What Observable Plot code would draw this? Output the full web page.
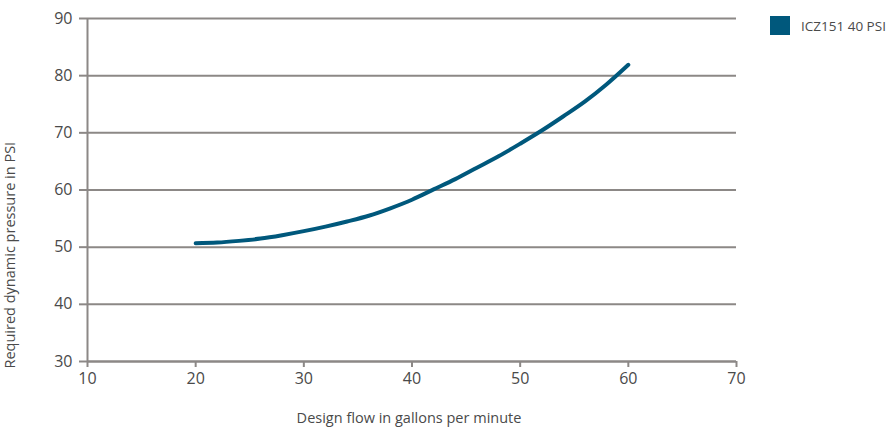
<!DOCTYPE html>
<html>
<head>
<meta charset="utf-8">
<script src="https://cdn.jsdelivr.net/npm/d3@7"></script>
<script src="https://cdn.jsdelivr.net/npm/@observablehq/plot@0.6"></script>
<style>
  html, body { margin: 0; padding: 0; background: #fff; }
  #wrap { position: relative; width: 890px; height: 434px; font-family: "Open Sans", sans-serif; }
  #legend { position: absolute; left: 770px; top: 16px; display: flex; align-items: center; font-size: 13.5px; color: #4a4a4a; white-space: nowrap; }
  #legend .sw { width: 20px; height: 19px; background: #00587c; margin-right: 11px; }
</style>
</head>
<body>
<div id="wrap"><div id="legend"><div class="sw"></div><span id="legtext"></span></div></div>
<script>
const seriesName = "ICZ151 40 PSI";
const flow = [20, 22, 24, 26, 28, 30, 32, 34, 36, 38, 40, 42, 44, 46, 48, 50, 52, 54, 56, 58, 60];
const pressure = [50.7, 50.8, 51.1, 51.5, 52.1, 52.8, 53.6, 54.5, 55.5, 56.8, 58.3, 60.1, 61.9, 63.9, 65.9, 68.1, 70.4, 72.9, 75.5, 78.5, 81.9];
const xTicks = [10, 20, 30, 40, 50, 60, 70];
const yTicks = [30, 40, 50, 60, 70, 80, 90];
const xLabel = "Design flow in gallons per minute";
const yLabel = "Required dynamic pressure in PSI";

const data = flow.map((f, i) => ({flow: f, pressure: pressure[i]}));
const gray = "#8c8886";
const textColor = "#4a4a4a";

const chart = Plot.plot({
  width: 890,
  height: 434,
  marginLeft: 87,
  marginRight: 154,
  marginTop: 18,
  marginBottom: 73,
  style: {fontFamily: "'Open Sans', sans-serif", background: "transparent", color: textColor},
  x: {domain: [10, 70], ticks: xTicks, label: null},
  y: {domain: [30, 90], ticks: yTicks, label: null},
  marks: [
    Plot.gridY(yTicks, {stroke: gray, strokeOpacity: 1, strokeWidth: 2}),
    Plot.ruleY([30], {stroke: gray, strokeWidth: 2}),
    Plot.ruleX([10], {stroke: gray, strokeWidth: 2}),
    Plot.axisX(xTicks, {tickSize: 6, tickPadding: 5, stroke: gray, strokeWidth: 2, fill: textColor, fontSize: 16, label: null}),
    Plot.axisY(yTicks, {tickSize: 8, tickPadding: 7, stroke: gray, strokeWidth: 2, fill: textColor, fontSize: 16, label: null}),
    Plot.line(data, {x: "flow", y: "pressure", curve: "catmull-rom", stroke: "#00587c", strokeWidth: 4, strokeLinecap: "round"}),
    Plot.text([yLabel], {frameAnchor: "bottom-left", textAnchor: "start", dx: -73, dy: 7, rotate: -90, fontSize: 14.5, fill: textColor}),
    Plot.text([xLabel], {frameAnchor: "bottom", dx: -3, dy: 61, fontSize: 14.5, fill: textColor})
  ]
});
document.getElementById("wrap").prepend(chart);
document.getElementById("legtext").textContent = seriesName;
</script>
</body>
</html>
